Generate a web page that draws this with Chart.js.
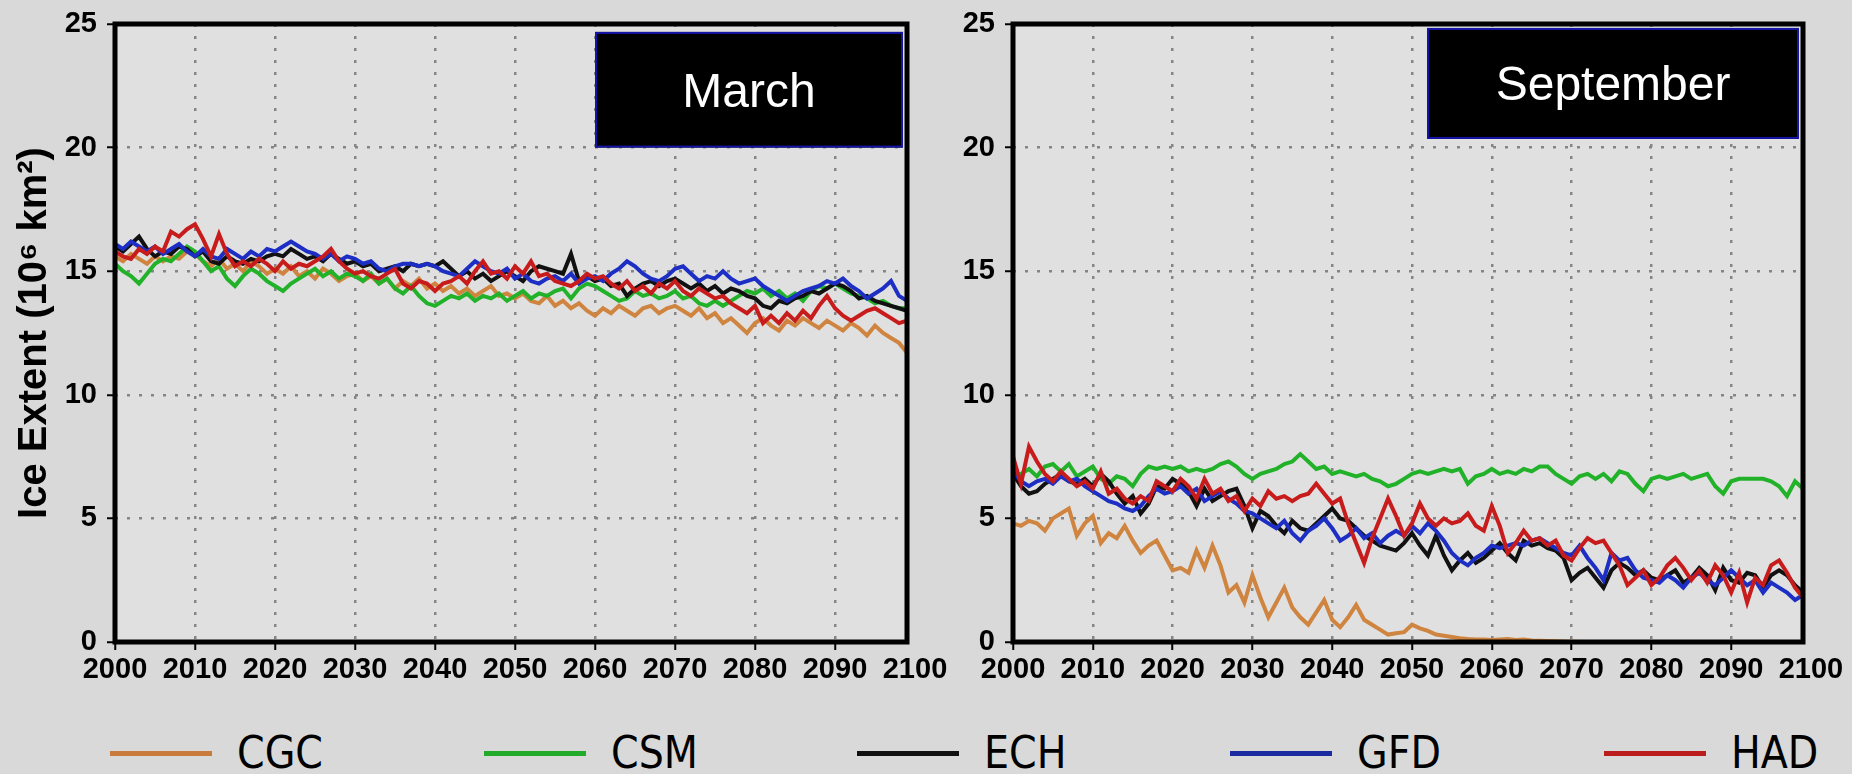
<!DOCTYPE html>
<html>
<head>
<meta charset="utf-8">
<script src="https://cdn.jsdelivr.net/npm/chart.js@4.4.0/dist/chart.umd.min.js"></script>
<style>
  html, body { margin: 0; padding: 0; background: #d9d9d9; width: 1852px; height: 774px; overflow: hidden; }
  #c1 { position: absolute; left: 0; top: 0; }
  #c2 { position: absolute; left: 950px; top: 0; }
  .item { position: absolute; top: 728px; height: 50px; display: flex; align-items: center; }
  .swatch { width: 102px; height: 5px; margin-right: 25px; }
  .lbl { font-family: "DejaVu Sans Condensed", "DejaVu Sans", sans-serif; font-size: 44px; color: #000; line-height: 50px; }
</style>
</head>
<body>
<canvas id="c1" width="960" height="700"></canvas>
<canvas id="c2" width="902" height="700"></canvas>
<div id="legend"></div>
<script>
// ---------------- DATA ----------------
const years = Array.from({ length: 100 }, (_, i) => 2000 + i);
const xTickValues = [2000, 2010, 2020, 2030, 2040, 2050, 2060, 2070, 2080, 2090, 2100];
const yTickValues = [0, 5, 10, 15, 20, 25];
const seriesNames = ['CGC', 'CSM', 'ECH', 'GFD', 'HAD'];
const panelTitles = ['March', 'September'];
const yAxisTitle = 'Ice Extent (10⁶ km²)';

// March
const marCGC = [
  15.6, 15.4, 15.7, 15.5, 15.3, 15.6, 15.4, 15.6, 15.5, 15.8,
  15.7, 15.4, 15.2, 15.5, 15.1, 15.3, 15.0, 15.4, 15.2, 14.9,
  15.1, 14.9, 15.2, 14.8, 15.0, 14.7, 15.1, 14.9, 14.6, 14.8,
  14.9, 14.6, 14.8, 14.5, 14.7, 14.3, 14.6, 14.4, 14.7, 14.3,
  14.5, 14.2, 14.4, 14.1, 14.3, 14.0, 14.2, 14.4, 14.0, 14.1,
  13.9, 14.1, 13.8, 13.7, 14.0, 13.6, 13.8, 13.5, 13.7, 13.4,
  13.2, 13.5, 13.3, 13.6, 13.4, 13.2, 13.5, 13.6, 13.3, 13.5,
  13.6, 13.4, 13.2, 13.5, 13.1, 13.3, 12.9, 13.1, 12.8, 12.5,
  12.9, 13.1, 12.8, 12.6, 13.0, 12.8, 13.1, 12.9, 12.7, 13.0,
  12.8, 12.6, 12.9, 12.7, 12.4, 12.8, 12.5, 12.3, 12.1, 11.7
];
const marCSM = [
  15.3, 15.0, 14.8, 14.5, 14.9, 15.3, 15.5, 15.4, 15.7, 16.0,
  15.8, 15.4, 15.0, 15.2, 14.7, 14.4, 14.8, 15.1, 14.9, 14.6,
  14.4, 14.2, 14.5, 14.7, 14.9, 15.1, 14.8, 15.0, 14.7, 14.9,
  14.8, 14.6, 14.9, 14.5, 14.7, 14.3, 14.1, 14.4, 14.0, 13.7,
  13.6, 13.8, 14.0, 13.9, 14.1, 13.8, 14.0, 13.9, 14.1, 13.8,
  14.0, 14.2, 13.9, 14.1, 14.0, 14.2, 14.3, 13.9, 14.3, 14.5,
  14.4, 14.2, 14.0, 13.8, 13.9, 14.2, 14.0, 14.1, 13.9, 14.0,
  14.2, 13.9, 14.0, 13.7, 13.6, 13.8, 13.6, 13.8, 14.0, 14.2,
  14.1, 14.3, 14.0, 14.2, 13.9, 14.1, 13.8, 14.2, 14.4, 14.3,
  14.5, 14.3, 14.1, 14.0, 13.9, 13.7, 13.8, 13.6, 13.5, 13.5
];
const marECH = [
  16.0, 15.8, 16.1, 16.4, 15.9, 15.6, 15.8, 15.7, 16.0, 15.9,
  15.6, 15.8, 15.4, 15.3, 15.6, 15.4, 15.3, 15.5, 15.4, 15.6,
  15.7, 15.6, 15.9, 15.7, 15.5, 15.6, 15.4, 15.7, 15.5, 15.3,
  15.4, 15.2, 15.3, 15.0, 15.1, 15.2, 15.0, 15.3, 15.2, 15.3,
  15.2, 15.4, 15.1, 14.8, 15.0, 14.7, 14.9, 14.6, 14.8, 15.0,
  14.8, 14.6, 15.0, 15.2, 15.1, 15.0, 14.9, 15.7, 14.6, 14.8,
  14.6, 14.7, 14.4, 14.5, 14.0, 14.3, 14.5, 14.6, 14.4, 14.6,
  14.7, 14.5, 14.3, 14.5, 14.2, 14.4, 14.1, 14.3, 14.2, 14.0,
  13.9, 13.6, 13.5, 13.8, 13.7, 13.9, 14.0, 14.2, 14.1, 14.3,
  14.5, 14.4, 14.2, 13.9, 14.0, 13.8, 13.7, 13.6, 13.5, 13.4
];
const marGFD = [
  16.1, 15.9, 16.2, 16.0, 15.8, 16.0, 15.7, 15.9, 16.1, 15.8,
  15.6, 15.9, 15.6, 15.5, 15.9, 15.7, 15.5, 15.8, 15.6, 15.9,
  15.8, 16.0, 16.2, 16.0, 15.8, 15.7, 15.5, 15.7, 15.4, 15.6,
  15.5, 15.3, 15.4, 15.1, 15.0, 15.2, 15.3, 15.3, 15.2, 15.3,
  15.2, 15.0, 14.9, 14.8, 15.1, 15.4, 15.2, 15.0, 14.9, 15.1,
  14.7, 14.9, 14.6, 14.5, 14.7, 14.8, 14.6, 14.9, 14.5, 14.7,
  14.8, 14.6, 14.9, 15.1, 15.4, 15.2, 14.9, 14.7, 14.6, 14.8,
  15.1, 15.2, 14.9, 14.6, 14.8, 14.7, 15.0, 14.7, 14.5, 14.6,
  14.7, 14.4, 14.2, 14.0, 13.8, 14.0, 14.2, 14.3, 14.4, 14.6,
  14.5, 14.7, 14.4, 14.2, 13.9, 14.1, 14.3, 14.6, 14.0, 13.8
];
const marHAD = [
  15.8, 15.6, 15.5, 15.9, 15.7, 16.0, 15.8, 16.6, 16.4, 16.7,
  16.9, 16.3, 15.6, 16.5, 15.7, 15.2, 15.4, 15.2, 15.5, 15.3,
  15.0, 15.4, 15.1, 15.3, 15.2, 15.4, 15.6, 15.9, 15.4, 15.1,
  14.9, 15.0, 14.8, 14.7, 14.9, 15.1, 14.5, 14.3, 14.6, 14.5,
  14.2, 14.5, 14.6, 14.8, 14.5, 15.0, 15.4, 14.9, 15.0, 14.7,
  15.2, 14.9, 15.4, 14.8, 14.9, 14.6, 14.5, 14.4, 14.6, 14.9,
  14.7, 14.8, 14.5, 14.3, 14.6, 14.2, 14.4, 14.1, 14.5, 14.3,
  14.6, 14.2, 14.0, 14.3, 14.1, 13.9, 14.0, 13.7, 13.5, 13.3,
  13.6, 12.9, 13.2, 12.9, 13.3, 13.0, 13.4, 13.1, 13.6, 14.0,
  13.5, 13.2, 13.0, 13.2, 13.4, 13.5, 13.3, 13.1, 12.9, 13.0
];

// September
const sepCGC = [
  4.8, 4.7, 4.9, 4.8, 4.5, 5.0, 5.2, 5.4, 4.3, 4.8,
  5.1, 4.0, 4.4, 4.2, 4.7, 4.1, 3.6, 3.9, 4.1, 3.5,
  2.9, 3.0, 2.8, 3.7, 3.0, 3.9, 3.1, 2.0, 2.3, 1.6,
  2.7, 1.8, 1.0, 1.6, 2.2, 1.4, 1.0, 0.7, 1.2, 1.7,
  0.9, 0.6, 1.0, 1.5, 0.9, 0.7, 0.5, 0.3, 0.35, 0.4,
  0.7, 0.55, 0.45, 0.3, 0.25, 0.2, 0.15, 0.12, 0.1, 0.1,
  0.08, 0.1, 0.12, 0.08, 0.1, 0.06, 0.05, 0.04, 0.03, 0.02,
  0.01, 0, 0, 0, 0, 0, 0, 0, 0, 0,
  0, 0, 0, 0, 0, 0, 0, 0, 0, 0,
  0, 0, 0, 0, 0, 0, 0, 0, 0, 0
];
const sepCSM = [
  6.6, 6.8, 7.0, 6.7, 7.1, 7.2, 6.9, 7.2, 6.7, 6.9,
  7.1, 6.6, 6.4, 6.7, 6.6, 6.3, 6.8, 7.1, 7.0, 7.1,
  7.0, 7.1, 6.9, 7.0, 6.9, 7.0, 7.2, 7.3, 7.1, 6.8,
  6.6, 6.8, 6.9, 7.0, 7.2, 7.3, 7.6, 7.3, 7.0, 7.1,
  6.8, 6.9, 6.8, 6.7, 6.8, 6.6, 6.5, 6.3, 6.4, 6.6,
  6.8, 6.9, 6.8, 6.9, 7.0, 6.9, 7.0, 6.4, 6.7, 6.8,
  7.0, 6.8, 6.9, 6.8, 7.0, 6.9, 7.1, 7.1, 6.8, 6.6,
  6.4, 6.7, 6.8, 6.6, 6.8, 6.5, 6.9, 6.8, 6.4, 6.1,
  6.6, 6.7, 6.6, 6.7, 6.8, 6.6, 6.7, 6.8, 6.3, 6.0,
  6.5, 6.6, 6.6, 6.6, 6.6, 6.5, 6.3, 5.9, 6.5, 6.2
];
const sepECH = [
  6.8, 6.3, 6.0, 6.1, 6.4, 6.6, 6.8, 6.5, 6.4, 6.6,
  6.3, 6.8, 6.5, 6.0, 5.6, 5.9, 5.2, 5.6, 6.3, 6.2,
  6.6, 6.4, 6.1, 5.5, 6.2, 5.7, 5.9, 6.1, 6.2, 5.5,
  4.6, 5.3, 5.1, 4.7, 4.4, 4.9, 4.6, 4.5, 4.8, 5.1,
  5.4, 5.0, 4.9, 4.6, 4.3, 4.1, 3.9, 3.8, 3.7, 4.0,
  4.4, 3.9, 3.5, 4.3, 3.5, 2.9, 3.3, 3.6, 3.2, 3.4,
  3.7, 4.0, 3.6, 3.3, 4.1, 3.9, 4.0, 3.8, 3.7, 3.4,
  2.5, 2.8, 3.0, 2.6, 2.2, 2.9, 3.2, 3.0, 2.7, 2.9,
  2.6, 2.5, 2.7, 2.9, 2.4, 2.6, 3.0, 2.7, 2.1, 3.0,
  2.5, 2.4, 2.8, 2.7, 2.2, 2.7, 2.9, 2.7, 2.3, 2.0
];
const sepGFD = [
  6.9, 6.5, 6.3, 6.5, 6.6, 6.4, 6.7, 6.5, 6.6, 6.3,
  6.1, 5.9, 5.7, 5.6, 5.4, 5.3, 5.5, 5.9, 6.2, 6.0,
  6.1, 6.3, 6.0, 6.2, 5.7, 5.9, 6.1, 5.8, 5.6, 5.3,
  5.2, 5.0, 4.8, 4.6, 4.9, 4.4, 4.1, 4.5, 4.7, 5.0,
  4.6, 4.1, 4.3, 4.6, 4.2, 4.4, 4.0, 4.3, 4.5, 4.3,
  4.7, 4.4, 4.8, 4.5, 4.1, 3.6, 3.3, 3.1, 3.4, 3.6,
  3.9, 3.8, 3.9, 4.0, 3.9, 4.1, 4.2, 4.0, 3.8, 3.6,
  3.5, 3.9, 3.4, 3.0, 2.5, 3.6, 3.3, 3.4, 2.9, 2.6,
  2.5, 2.4, 2.7, 2.5, 2.2, 2.6, 2.8, 2.5, 2.3, 2.6,
  2.9, 2.6, 2.3, 2.5, 2.0, 2.4, 2.2, 2.0, 1.7, 1.9
];
const sepHAD = [
  7.5, 6.4, 7.9, 7.3, 6.8, 6.5, 6.9, 6.6, 6.3, 6.5,
  6.2, 6.9, 6.0, 6.2, 5.8, 5.6, 5.9, 5.7, 6.5, 6.3,
  6.1, 6.6, 6.3, 5.8, 6.6, 6.0, 6.2, 5.7, 5.9, 5.3,
  5.8, 5.5, 6.1, 5.8, 5.9, 5.7, 5.9, 6.0, 6.4, 6.0,
  5.6, 5.8, 4.8, 4.0, 3.2, 4.2, 5.0, 5.8, 5.1, 4.3,
  4.8, 5.6, 5.0, 4.7, 5.0, 4.8, 4.9, 5.2, 4.7, 4.5,
  5.5, 4.7, 3.6, 4.0, 4.5, 4.1, 4.2, 3.9, 4.1, 3.5,
  3.3, 3.8, 4.2, 4.0, 4.1, 3.6, 3.1, 2.3, 2.6, 2.9,
  2.3, 2.6, 3.1, 3.4, 3.0, 2.5, 2.9, 2.4, 3.1, 2.7,
  2.0, 2.8, 1.6, 2.6, 2.3, 3.1, 3.3, 2.8, 2.2, 1.8
];

// ---------------- STYLE ----------------
const lineColors = ['#cf8440', '#22b22a', '#111111', '#1c2ec4', '#c81c1c'];
const legendColors = ['#c97b3c', '#22aa2a', '#111111', '#1a2aa0', '#bb1c1c'];
const drawOrder = [4, 3, 2, 1, 0];
const gridColor = '#858585';
const clear = 'rgba(0,0,0,0)';

// pick a narrow bold face for tick labels if one is available
function measure(fontStr, txt) {
  const c = document.createElement('canvas').getContext('2d');
  c.font = fontStr;
  return { w: c.measureText(txt).width, f: c.font };
}
let tickFont = { family: "'Liberation Sans', Arial, sans-serif", size: 29, weight: 'bold' };
let legendNarrow = false;
(function () {
  const n = measure("bold 34px 'Noto Sans'", '2100');
  const c = measure("bold condensed 34px 'Noto Sans'", '2100');
  if (c.f.indexOf('condensed') >= 0 && c.w < n.w * 0.88) {
    tickFont = { family: "'Noto Sans', sans-serif", size: 34, weight: 'bold condensed' };
    legendNarrow = true;
  }
})();

const framePlugin = {
  id: 'frame',
  beforeDraw(chart, args, opts) {
    const { ctx, chartArea: a } = chart;
    ctx.save();
    ctx.fillStyle = opts.bg;
    ctx.fillRect(a.left, a.top, a.right - a.left, a.bottom - a.top);
    ctx.restore();
  },
  afterDraw(chart, args, opts) {
    const { ctx, chartArea: a, scales } = chart;
    const b = opts.box;
    const x0 = scales.x.getPixelForValue(b.fromX);
    const x1 = a.right - 4;
    const y0 = scales.y.getPixelForValue(b.topY);
    const y1 = scales.y.getPixelForValue(b.bottomY);
    ctx.save();
    ctx.fillStyle = '#000';
    ctx.fillRect(x0, y0, x1 - x0, y1 - y0);
    ctx.strokeStyle = '#1414a8';
    ctx.lineWidth = 2;
    ctx.strokeRect(x0 + 1, y0 + 1, x1 - x0 - 2, y1 - y0 - 2);
    ctx.fillStyle = '#fff';
    ctx.font = "48px 'Liberation Sans', Arial, sans-serif";
    ctx.textAlign = 'center';
    ctx.textBaseline = 'alphabetic';
    ctx.fillText(b.text, (x0 + x1) / 2, (y0 + y1) / 2 + 17);
    ctx.strokeStyle = '#000';
    ctx.lineWidth = 5;
    ctx.strokeRect(a.left, a.top, a.right - a.left, a.bottom - a.top);
    ctx.restore();
  }
};

function makeChart(id, seriesList, yW, padRight, showTitle, box) {
  const datasets = seriesList.map((vals, k) => ({
    label: seriesNames[k],
    data: years.map((yr, i) => ({ x: yr, y: vals[i] })),
    borderColor: lineColors[k],
    borderWidth: 4,
    pointRadius: 0,
    tension: 0,
    fill: false,
    order: drawOrder[k]
  }));
  return new Chart(document.getElementById(id), {
    type: 'line',
    data: { datasets },
    plugins: [framePlugin],
    options: {
      responsive: false,
      devicePixelRatio: 1,
      animation: false,
      layout: { autoPadding: false, padding: { top: 24, right: padRight, left: 0, bottom: 0 } },
      plugins: {
        legend: { display: false },
        tooltip: { enabled: false },
        frame: { bg: '#e0e0e0', box }
      },
      scales: {
        x: {
          type: 'linear', min: 2000, max: 2099,
          afterBuildTicks: s => { s.ticks = xTickValues.map(v => ({ value: v })); },
          afterFit: s => { s.height = 58; s.paddingLeft = 0; s.paddingRight = 0; },
          ticks: { font: tickFont, color: '#000', padding: 3, maxRotation: 0, minRotation: 0, autoSkip: false, callback: v => String(v) },
          grid: {
            color: c => (c.tick && c.tick.value > 2000 && c.tick.value < 2099) ? gridColor : clear,
            lineWidth: 2.5, tickLength: 8, tickWidth: 2,
            tickColor: c => (c.tick && c.tick.value <= 2099) ? '#000' : clear,
            tickBorderDash: []
          },
          border: { display: false, dash: [3, 9] }
        },
        y: {
          type: 'linear', min: 0, max: 25,
          afterBuildTicks: s => { s.ticks = yTickValues.map(v => ({ value: v })); },
          afterFit: s => { s.width = yW; s.paddingTop = 0; s.paddingBottom = 0; },
          ticks: { font: tickFont, color: '#000', padding: 10, callback: v => String(v) },
          grid: {
            color: c => (c.tick && c.tick.value > 0 && c.tick.value < 25) ? gridColor : clear,
            lineWidth: 2.5, tickLength: 8, tickWidth: 2, tickColor: '#000', tickBorderDash: []
          },
          border: { display: false, dash: [3, 9] },
          title: {
            display: showTitle, text: yAxisTitle, color: '#000',
            font: { family: "'Liberation Sans', 'DejaVu Sans', sans-serif", size: 40, weight: 'bold' },
            padding: { top: 11, bottom: 0 }
          }
        }
      }
    }
  });
}

makeChart('c1', [marCGC, marCSM, marECH, marGFD, marHAD], 115, 53, true,
  { text: panelTitles[0], fromX: 2060, topY: 24.68, bottomY: 20.0 });
makeChart('c2', [sepCGC, sepCSM, sepECH, sepGFD, sepHAD], 63, 49, false,
  { text: panelTitles[1], fromX: 2051.9, topY: 24.84, bottomY: 20.35 });

// legend
const legendLefts = [110, 484, 857, 1230, 1604];
const leg = document.getElementById('legend');
seriesNames.forEach((n, k) => {
  const d = document.createElement('div');
  d.className = 'item';
  d.style.left = legendLefts[k] + 'px';
  const sw = document.createElement('div');
  sw.className = 'swatch';
  sw.style.background = legendColors[k];
  const t = document.createElement('span');
  t.className = 'lbl';
  if (legendNarrow) {
    t.style.fontFamily = "'Noto Sans', sans-serif";
    t.style.fontStretch = 'condensed';
    t.style.fontSize = '46px';
  }
  t.textContent = n;
  d.appendChild(sw); d.appendChild(t);
  leg.appendChild(d);
});
</script>
</body>
</html>
